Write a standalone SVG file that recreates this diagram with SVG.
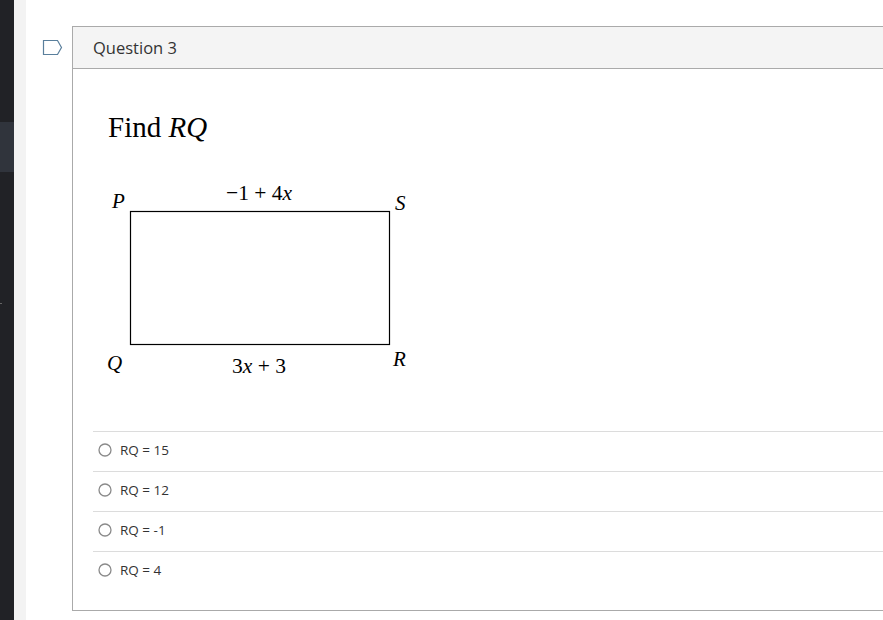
<svg xmlns="http://www.w3.org/2000/svg" width="883" height="620" viewBox="0 0 883 620">
<style>
.ui{font-family:"Open Sans","Noto Sans",sans-serif;fill:#333}
.m{font-family:"Liberation Serif","Times New Roman",serif;fill:#000}
.i{font-style:italic}
.sep{stroke:#dcdcdc;stroke-width:1}
.radio{fill:#fff;stroke:#8a8a8a;stroke-width:1.3}
</style>
<rect x="0" y="0" width="883" height="620" fill="#fff"/>
<rect x="0" y="0" width="14" height="620" fill="#212226"/>
<rect x="0" y="122" width="14" height="50" fill="#30343c"/>
<rect x="0" y="303" width="2" height="1" fill="#666"/>
<rect x="14" y="0" width="12" height="620" fill="#f3f3f3"/>
<g id="flag"><path d="M43.5 40.5 H57.5 L61.5 47.5 L57.5 54.5 H43.5 Z" fill="#fff" stroke="#5a7f9c" stroke-width="1.2"/></g>
<g id="card">
<rect x="72.5" y="26.5" width="815" height="584" fill="#fff" stroke="#aaa"/>
<rect x="72.5" y="26.5" width="815" height="42" fill="#f4f4f4" stroke="#aaa"/>
<text class="ui" x="93" y="54" font-size="16.5">Question 3</text>
</g>
<g id="prompt"><text class="m" x="108" y="137" font-size="29">Find <tspan class="i">RQ</tspan></text></g>
<g id="figure">
<rect x="130.5" y="211.5" width="259" height="133" fill="none" stroke="#000" stroke-width="1.2"/>
<text class="m i" x="112" y="208" font-size="21">P</text>
<text class="m" x="226" y="200" font-size="21.5">−1 + 4<tspan class="i">x</tspan></text>
<text class="m i" x="395" y="210" font-size="21">S</text>
<text class="m i" x="107" y="370" font-size="21">Q</text>
<text class="m" x="232" y="373" font-size="21.5">3<tspan class="i">x</tspan> + 3</text>
<text class="m i" x="393" y="366" font-size="21">R</text>
</g>
<g id="options">
<line class="sep" x1="93" y1="431.5" x2="883" y2="431.5"/>
<line class="sep" x1="93" y1="471.5" x2="883" y2="471.5"/>
<line class="sep" x1="93" y1="511.5" x2="883" y2="511.5"/>
<line class="sep" x1="93" y1="551.5" x2="883" y2="551.5"/>
<g id="opt1"><circle class="radio" cx="105" cy="450" r="6"/><text class="ui" x="120" y="455" font-size="13.5">RQ = 15</text></g>
<g id="opt2"><circle class="radio" cx="105" cy="490" r="6"/><text class="ui" x="120" y="495" font-size="13.5">RQ = 12</text></g>
<g id="opt3"><circle class="radio" cx="105" cy="530" r="6"/><text class="ui" x="120" y="535" font-size="13.5">RQ = -1</text></g>
<g id="opt4"><circle class="radio" cx="105" cy="570" r="6"/><text class="ui" x="120" y="575" font-size="13.5">RQ = 4</text></g>
</g>
</svg>
